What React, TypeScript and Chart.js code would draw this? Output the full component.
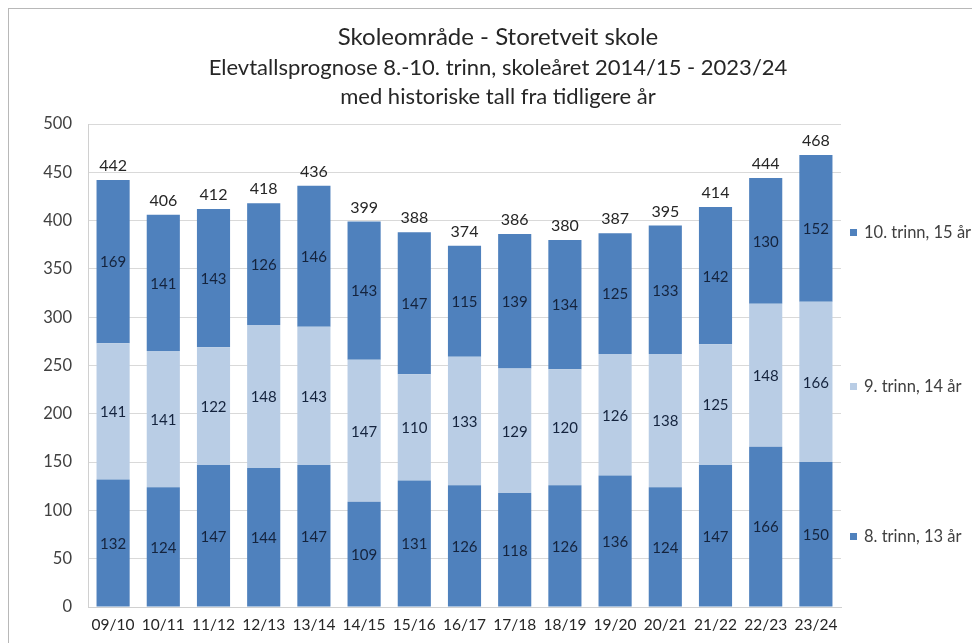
import React, { useEffect, useRef } from "react";
import { Chart, registerables } from "chart.js";

Chart.register(...registerables);

const categories = ["09/10", "10/11", "11/12", "12/13", "13/14", "14/15", "15/16", "16/17", "17/18", "18/19", "19/20", "20/21", "21/22", "22/23", "23/24"];
const trinn8 = [132, 124, 147, 144, 147, 109, 131, 126, 118, 126, 136, 124, 147, 166, 150];
const trinn9 = [141, 141, 122, 148, 143, 147, 110, 133, 129, 120, 126, 138, 125, 148, 166];
const trinn10 = [169, 141, 143, 126, 146, 143, 147, 115, 139, 134, 125, 133, 142, 130, 152];
const totals = [442, 406, 412, 418, 436, 399, 388, 374, 386, 380, 387, 395, 414, 444, 468];
const seriesNames = ["8. trinn, 13 år", "9. trinn, 14 år", "10. trinn, 15 år"];
const titleText = "Skoleområde - Storetveit skole";
const subtitleLines = ["Elevtallsprognose 8.-10. trinn, skoleåret 2014/15 - 2023/24", "med historiske tall fra tidligere år"];

const FONT = "Lato, 'Open Sans', sans-serif";
const DARK = "#4f81bd";
const LIGHT = "#b9cde5";

const titlePlugin = {
  id: "titles",
  afterDraw(chart: any) {
    const ctx = chart.ctx;
    ctx.save();
    ctx.textAlign = "center";
    ctx.textBaseline = "middle";
    ctx.fillStyle = "#262626";
    const cx = 489;
    ctx.font = `24px ${FONT}`;
    ctx.fillText(titleText, cx, 28);
    ctx.font = `22px ${FONT}`;
    ctx.fillText(subtitleLines[0], cx, 59);
    ctx.fillText(subtitleLines[1], cx, 88);
    ctx.restore();
  },
};

const labelsPlugin = {
  id: "segLabels",
  afterDatasetsDraw(chart: any) {
    const ctx = chart.ctx;
    ctx.save();
    ctx.textAlign = "center";
    ctx.textBaseline = "middle";
    chart.data.datasets.forEach((ds: any, di: number) => {
      const meta = chart.getDatasetMeta(di);
      meta.data.forEach((el: any, i: number) => {
        const yMid = (el.y + el.base) / 2;
        ctx.font = `15px ${FONT}`;
        ctx.fillStyle = "#14233d";
        ctx.fillText(String(ds.data[i]), el.x, yMid + 1);
        if (di === chart.data.datasets.length - 1) {
          ctx.font = `16px ${FONT}`;
          ctx.fillStyle = "#262626";
          ctx.fillText(String(totals[i]), el.x, el.y - 14);
        }
      });
    });
    ctx.restore();
  },
};

const legendPlugin = {
  id: "sideLegend",
  afterDraw(chart: any) {
    const ctx = chart.ctx;
    const area = chart.chartArea;
    ctx.save();
    ctx.font = `16.5px ${FONT}`;
    ctx.textAlign = "left";
    ctx.textBaseline = "middle";
    const entries = [
      { name: seriesNames[2], color: DARK, y: 224 },
      { name: seriesNames[1], color: LIGHT, y: 378 },
      { name: seriesNames[0], color: DARK, y: 528 },
    ];
    entries.forEach((e) => {
      const x = area.right + 9;
      ctx.fillStyle = e.color;
      ctx.fillRect(x, e.y - 4, 7, 7);
      ctx.fillStyle = "#404040";
      ctx.fillText(e.name, x + 14, e.y);
    });
    ctx.restore();
  },
};

export default function App() {
  const ref = useRef<HTMLCanvasElement | null>(null);
  useEffect(() => {
    document.body.style.overflow = "hidden";
    const canvas = ref.current!;
    const chart = new Chart(canvas, {
      type: "bar",
      data: {
        labels: categories,
        datasets: [
          { label: seriesNames[0], data: trinn8, backgroundColor: DARK },
          { label: seriesNames[1], data: trinn9, backgroundColor: LIGHT },
          { label: seriesNames[2], data: trinn10, backgroundColor: DARK },
        ],
      },
      options: {
        responsive: false,
        animation: false,
        devicePixelRatio: 1,
        datasets: { bar: { barPercentage: 0.66, categoryPercentage: 1 } },
        layout: { padding: { left: 0, right: 139, top: 115, bottom: 0 } },
        plugins: {
          legend: { display: false },
          tooltip: { enabled: false },
          title: { display: false },
        },
        scales: {
          x: {
            stacked: true,
            grid: { display: false, drawTicks: false },
            border: { display: true, color: "#d0d0d0" },
            ticks: { color: "#262626", font: { family: FONT, size: 15.5 }, padding: 9, maxRotation: 0, autoSkip: false },
            afterFit: (s: any) => { s.height = 36; },
          },
          y: {
            stacked: true,
            min: 0,
            max: 500,
            grid: { color: "#d9d9d9", drawTicks: false },
            border: { display: true, color: "#d0d0d0" },
            ticks: { stepSize: 50, color: "#404040", font: { family: FONT, size: 16.5 }, padding: 16 },
            afterFit: (s: any) => { s.width = 79; },
          },
        },
      },
      plugins: [labelsPlugin, legendPlugin, titlePlugin],
    });
    return () => chart.destroy();
  }, []);
  return (
    <div style={{ width: 971, height: 634, borderLeft: "1px solid #b8b8b8", borderTop: "1px solid #b8b8b8", background: "#fff" }}>
      <canvas ref={ref} width={971} height={634} style={{ display: "block" }} />
    </div>
  );
}
